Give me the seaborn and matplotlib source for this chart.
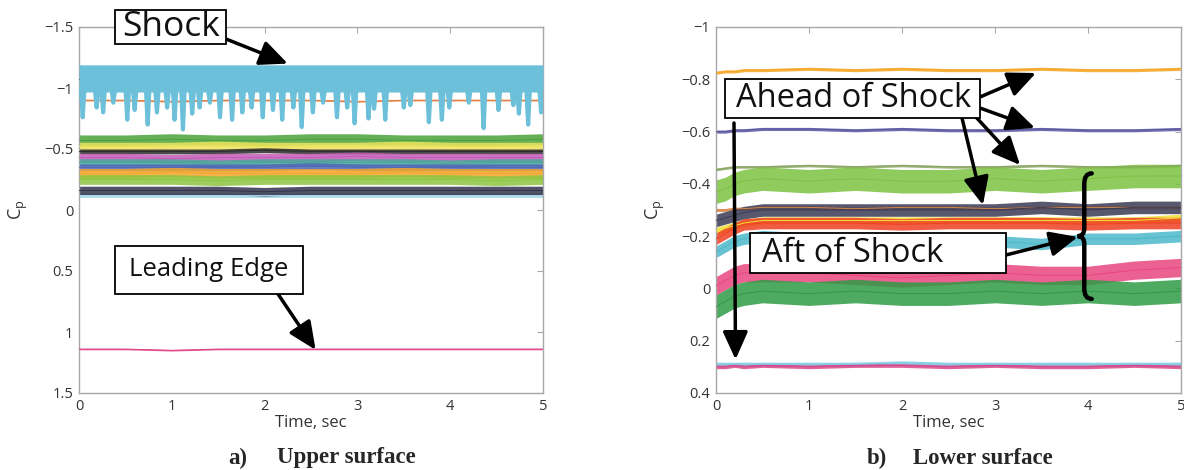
import matplotlib
matplotlib.use("Agg")
import matplotlib.pyplot as plt
import numpy as np
import pandas as pd
import seaborn as sns
from matplotlib.path import Path
from matplotlib.patches import PathPatch, Rectangle

sns.set_style("white")
plt.rcParams["font.family"] = ["Open Sans", "DejaVu Sans"]

# ---------------- upper surface: pressure-tap records ----------------
upper_time = [0.0, 0.5, 1.0, 1.5, 2.0, 2.5, 3.0, 3.5, 4.0, 4.5, 5.0]

up_shock_lo = [-1.19, -1.19, -1.19, -1.19, -1.19, -1.19, -1.19, -1.19, -1.19, -1.19, -1.19]
up_shock_hi = [-0.98, -0.99, -0.98, -0.99, -0.98, -0.98, -0.99, -0.98, -0.99, -0.98, -0.98]
shock_dip_time = [0.04, 0.19, 0.26, 0.37, 0.52, 0.60, 0.74, 0.84, 0.95, 1.03, 1.12, 1.22,
                  1.30, 1.41, 1.52, 1.65, 1.76, 1.86, 1.98, 2.09, 2.19, 2.31, 2.40, 2.52,
                  2.63, 2.78, 2.89, 2.97, 3.12, 3.18, 3.30, 3.50, 3.57, 3.77, 3.91, 3.99,
                  4.20, 4.36, 4.52, 4.68, 4.74, 4.84, 4.98]
shock_dip_cp = [-0.76, -0.84, -0.80, -0.88, -0.74, -0.82, -0.70, -0.80, -0.84, -0.74, -0.66, -0.79,
                -0.84, -0.88, -0.76, -0.74, -0.80, -0.84, -0.76, -0.82, -0.74, -0.84, -0.68, -0.80,
                -0.88, -0.76, -0.84, -0.71, -0.75, -0.83, -0.74, -0.84, -0.86, -0.72, -0.74, -0.84,
                -0.88, -0.67, -0.82, -0.86, -0.79, -0.70, -0.80]

up_behind_black = [-1.07] * 11
up_behind_yellow = [-1.04] * 11
up_behind_red = [-0.90, -0.90, -0.89, -0.90, -0.90, -0.90, -0.89, -0.90, -0.90, -0.90, -0.90]
up_green = [-0.57, -0.57, -0.58, -0.57, -0.57, -0.58, -0.58, -0.57, -0.57, -0.57, -0.58]
up_yellow = [-0.52, -0.52, -0.52, -0.53, -0.52, -0.52, -0.52, -0.53, -0.52, -0.52, -0.52]
up_black = [-0.48, -0.48, -0.48, -0.48, -0.49, -0.48, -0.48, -0.48, -0.48, -0.48, -0.48]
up_magenta = [-0.43, -0.43, -0.42, -0.43, -0.43, -0.43, -0.44, -0.43, -0.43, -0.43, -0.43]
up_teal = [-0.39, -0.39, -0.39, -0.38, -0.39, -0.39, -0.39, -0.39, -0.38, -0.39, -0.39]
up_blue = [-0.35, -0.35, -0.35, -0.35, -0.35, -0.36, -0.35, -0.35, -0.35, -0.35, -0.35]
up_orange = [-0.30, -0.30, -0.31, -0.30, -0.30, -0.30, -0.30, -0.31, -0.30, -0.30, -0.30]
up_lightgreen = [-0.25, -0.25, -0.25, -0.24, -0.25, -0.25, -0.25, -0.25, -0.25, -0.24, -0.25]
up_navy = [-0.16, -0.16, -0.16, -0.16, -0.15, -0.16, -0.16, -0.16, -0.16, -0.16, -0.16]
up_lightblue = [-0.12] * 11
up_leading_edge = [1.14, 1.14, 1.15, 1.14, 1.14, 1.14, 1.14, 1.14, 1.14, 1.14, 1.14]

# ---------------- lower surface: pressure-tap records ----------------
lower_time = [0.0, 0.1, 0.2, 0.3, 0.5, 1.0, 1.5, 2.0, 2.5, 3.0, 3.5, 4.0, 4.5, 5.0]

lo_orange = [-0.825, -0.83, -0.83, -0.835, -0.835, -0.84, -0.835, -0.84, -0.835, -0.835, -0.84, -0.835, -0.835, -0.84]
lo_purple = [-0.60, -0.60, -0.605, -0.605, -0.61, -0.61, -0.605, -0.61, -0.605, -0.605, -0.61, -0.605, -0.605, -0.61]
lo_olive = [-0.455, -0.46, -0.465, -0.465, -0.465, -0.47, -0.465, -0.47, -0.465, -0.465, -0.47, -0.465, -0.465, -0.47]
lo_lightgreen = [-0.37, -0.38, -0.40, -0.41, -0.42, -0.41, -0.42, -0.41, -0.41, -0.42, -0.41, -0.42, -0.43, -0.43]
lo_brown = [-0.30, -0.30, -0.305, -0.305, -0.31, -0.31, -0.305, -0.31, -0.31, -0.305, -0.31, -0.31, -0.31, -0.31]
lo_navy = [-0.26, -0.27, -0.28, -0.29, -0.30, -0.30, -0.30, -0.30, -0.30, -0.30, -0.31, -0.30, -0.31, -0.31]
lo_yellow = [-0.22, -0.23, -0.24, -0.25, -0.26, -0.26, -0.26, -0.26, -0.26, -0.26, -0.26, -0.26, -0.26, -0.27]
lo_red = [-0.19, -0.21, -0.23, -0.245, -0.25, -0.25, -0.25, -0.245, -0.25, -0.25, -0.25, -0.245, -0.25, -0.25]
lo_cyan = [-0.14, -0.16, -0.18, -0.19, -0.20, -0.19, -0.19, -0.18, -0.19, -0.18, -0.17, -0.19, -0.19, -0.20]
lo_pink = [-0.01, -0.03, -0.05, -0.06, -0.06, -0.06, -0.05, -0.04, -0.05, -0.06, -0.05, -0.05, -0.07, -0.08]
lo_green = [0.07, 0.05, 0.03, 0.02, 0.01, 0.02, 0.01, 0.02, 0.02, 0.01, 0.02, 0.01, 0.02, 0.01]
lo_lightblue = [0.29, 0.29, 0.29, 0.29, 0.29, 0.29, 0.29, 0.285, 0.29, 0.29, 0.29, 0.29, 0.29, 0.29]
lo_pink2 = [0.30, 0.30, 0.295, 0.30, 0.295, 0.30, 0.295, 0.295, 0.30, 0.295, 0.30, 0.30, 0.295, 0.30]

upper_yticks = [-1.5, -1.0, -0.5, 0.0, 0.5, 1.0, 1.5]
lower_yticks = [-1.0, -0.8, -0.6, -0.4, -0.2, 0.0, 0.2, 0.4]
time_ticks = [0, 1, 2, 3, 4, 5]

# (values, colour, half-width of the fluctuation band)
upper_traces = [
    (up_behind_black, "#2f2f2f", 0.01),
    (up_behind_yellow, "#e6d64a", 0.01),
    (up_behind_red, "#e07a3c", 0.006),
    (up_green, "#4aa23a", 0.045),
    (up_yellow, "#eee35c", 0.035),
    (up_black, "#2b2b2b", 0.02),
    (up_magenta, "#c35bb6", 0.035),
    (up_teal, "#47a79c", 0.03),
    (up_blue, "#4e66b6", 0.028),
    (up_orange, "#f3a529", 0.04),
    (up_lightgreen, "#8cc640", 0.04),
    (up_lightblue, "#a6d6e8", 0.018),
    (up_navy, "#33344d", 0.035),
    (up_leading_edge, "#e0418a", 0.006),
]
lower_traces = [
    (lo_orange, "#f5a623", 0.006),
    (lo_purple, "#5a55a0", 0.006),
    (lo_olive, "#8aa562", 0.005),
    (lo_lightgreen, "#7dc242", 0.045),
    (lo_brown, "#d8874a", 0.006),
    (lo_yellow, "#f2df3a", 0.014),
    (lo_navy, "#3a3a55", 0.024),
    (lo_red, "#ee4123", 0.022),
    (lo_cyan, "#4cb8cb", 0.022),
    (lo_pink, "#e8467f", 0.035),
    (lo_green, "#2f9a45", 0.045),
    (lo_lightblue, "#80cbe2", 0.008),
    (lo_pink2, "#d8488a", 0.007),
]

W, H = 1184, 470
fig = plt.figure(figsize=(W / 100, H / 100), dpi=100)
ax_up = fig.add_axes([79 / W, 1 - 393 / H, 464 / W, 366 / H])
ax_lo = fig.add_axes([716 / W, 1 - 393 / H, 465 / W, 366 / H])


def fpx(x, y):
    """figure-fraction position from pixel offsets (origin top-left)"""
    return (x / W, 1 - y / H)


def draw_traces(ax, time, traces):
    rows = []
    palette = {}
    for i, (vals, color, spread) in enumerate(traces):
        v = np.asarray(vals, dtype=float)
        ax.fill_between(time, v - spread, v + spread, color=color, alpha=0.85,
                        linewidth=0, zorder=2 + i * 0.01)
        name = f"tap{i}"
        palette[name] = color
        rows += [{"time": t, "cp": c, "tap": name} for t, c in zip(time, vals)]
    df = pd.DataFrame(rows)
    sns.lineplot(data=df, x="time", y="cp", hue="tap", palette=palette,
                 legend=False, ax=ax, linewidth=0.7, zorder=3,
                 estimator=None, sort=False)


draw_traces(ax_up, upper_time, upper_traces)

# shock-foot tap: dense band plus intermittent excursions
shock_col = "#6cc0da"
ax_up.fill_between(upper_time, up_shock_lo, up_shock_hi, color=shock_col,
                   linewidth=0, zorder=4)
sx, sy = [], []
for t, c in zip(shock_dip_time, shock_dip_cp):
    sx += [t - 0.018, t, t + 0.018]
    sy += [up_shock_hi[0], c, up_shock_hi[0]]
sns.lineplot(x=sx, y=sy, ax=ax_up, color=shock_col, linewidth=3.0,
             estimator=None, sort=False, zorder=4)

draw_traces(ax_lo, lower_time, lower_traces)

minus = "\u2212"


def style_axes(ax, yticks, ylim):
    ax.set_xlim(0, 5)
    ax.set_ylim(ylim)
    ax.set_xticks(time_ticks)
    ax.set_xticklabels([f"{t:g}" for t in time_ticks])
    ax.set_yticks(yticks)
    ax.set_yticklabels([f"{v:g}".replace("-", minus) for v in yticks])
    for s in ax.spines.values():
        s.set_color("#a8a8a8")
        s.set_linewidth(1.0)
        s.set_visible(True)
    ax.tick_params(direction="in", length=4, width=0.8, color="#a8a8a8",
                   top=True, right=True, labelsize=10.5, labelcolor="#333333", pad=4)
    ax.set_xlabel("Time, sec", fontsize=12, color="#333333", labelpad=1)
    ax.set_ylabel("C$_\\mathregular{p}$", fontsize=13, color="#333333")
    ax.yaxis.set_label_coords(-0.105, 0.5)
    ax.grid(False)


style_axes(ax_up, upper_yticks, (1.5, -1.5))
style_axes(ax_lo, lower_yticks, (0.4, -1.0))


def label_box(x0, y0, x1, y1, text, tx, size):
    fig.patches.append(Rectangle(fpx(x0, y1), (x1 - x0) / W, (y1 - y0) / H,
                                 transform=fig.transFigure, fc="white", ec="black",
                                 lw=1.3, zorder=10))
    fig.text(*fpx(tx, (y0 + y1) / 2), text, fontsize=size, ha="center",
             va="center", zorder=11, color="#111111")


arrow_style = dict(arrowstyle="-|>,head_length=1.0,head_width=0.45",
                   mutation_scale=17, lw=2.5, color="black", shrinkA=0, shrinkB=0)


def arrow(ax, start_px, tip):
    ax.annotate("", xy=tip, xycoords="data", xytext=fpx(*start_px),
                textcoords="figure fraction", annotation_clip=False, zorder=12,
                arrowprops=arrow_style)


# upper annotations
label_box(115, 10, 226, 44, "Shock", 171, 25.5)
arrow(ax_up, (226, 39), (2.25, -1.2))
label_box(115, 246, 303, 294, "Leading Edge", 209, 18.5)
arrow(ax_up, (278, 294), (2.55, 1.147))

# lower annotations
label_box(725, 79, 980, 118, "Ahead of Shock", 854, 23.5)
arrow(ax_lo, (980, 97), (3.44, -0.824))
arrow(ax_lo, (980, 108), (3.43, -0.614))
arrow(ax_lo, (975, 116), (3.27, -0.472))
arrow(ax_lo, (962, 118), (2.87, -0.319))
arrow(ax_lo, (734, 123), (0.21, 0.272))
label_box(750, 233, 1006, 273, "Aft of Shock", 853, 23.5)
arrow(ax_lo, (1006, 255), (3.89, -0.197))

# curly brace grouping the aft-of-shock taps
bx, bw = 3.96, 0.08
top, bot, mid = -0.44, 0.04, -0.20
verts = [(bx + bw, top), (bx, top), (bx, top + 0.04),
         (bx, mid - 0.03),
         (bx, mid), (bx - bw * 0.9, mid),
         (bx, mid), (bx, mid + 0.03),
         (bx, bot - 0.04),
         (bx, bot), (bx + bw, bot)]
codes = [Path.MOVETO, Path.CURVE3, Path.CURVE3, Path.LINETO,
         Path.CURVE3, Path.CURVE3, Path.CURVE3, Path.CURVE3,
         Path.LINETO, Path.CURVE3, Path.CURVE3]
ax_lo.add_patch(PathPatch(Path(verts, codes), fc="none", ec="black", lw=3.2,
                          zorder=10, clip_on=False, capstyle="round"))

# panel captions
cap = dict(fontsize=16.5, fontweight="bold", family="Liberation Serif", va="center")
fig.text(*fpx(228, 458), "a)", **cap)
fig.text(*fpx(277, 458), "Upper surface", **cap)
fig.text(*fpx(867, 458), "b)", **cap)
fig.text(*fpx(913, 458), "Lower surface", **cap)

fig.savefig("out.png", dpi=100)
